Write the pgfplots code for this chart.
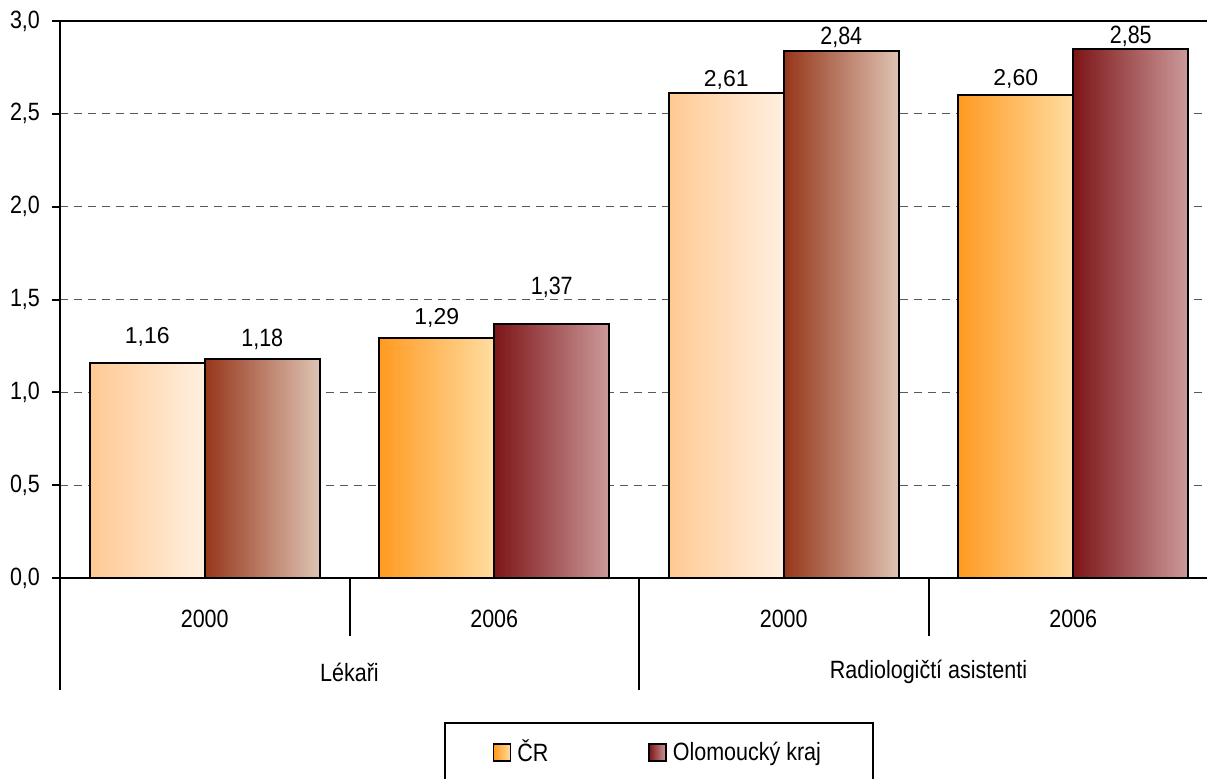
\documentclass[border=0pt]{standalone}
\usepackage{fontspec}
\setmainfont{Liberation Sans}
\newfontfamily\narrow[FakeStretch=0.86]{Liberation Sans}
\usepackage{pgfplots}
\pgfplotsset{compat=1.18}

\definecolor{crAl}{HTML}{FFC993}
\definecolor{crAr}{HTML}{FFF0E0}
\definecolor{crBl}{HTML}{FF9A22}
\definecolor{crBr}{HTML}{FFDDA2}
\definecolor{olAl}{HTML}{96361A}
\definecolor{olAr}{HTML}{DEC3B3}
\definecolor{olBl}{HTML}{7D1518}
\definecolor{olBr}{HTML}{CC9A9A}

\newcommand{\lab}{\narrow\fontsize{12.5}{15}\selectfont}
\newcommand{\labr}{\fontsize{11.5}{14}\selectfont}

\pgfplotsset{
  bar/.style={ybar, bar width=0.397, draw=black, line width=1pt, forget plot,
    nodes near coords={\pgfmathprintnumber[use comma,fixed,fixed zerofill,precision=2]{\pgfplotspointmeta}},
    nodes near coords style={anchor=center, text=black}},
  crbar/.style={bar, bar shift=-0.1985, nodes near coords style={font=\labr, xshift=-28.75pt}},
  olbar/.style={bar, bar shift=0.1985, nodes near coords style={font=\lab, xshift=28.75pt}},
}

\begin{document}
\begin{tikzpicture}
\begin{axis}[
  scale only axis, width=579pt, height=278.5pt,
  xmin=-0.5, xmax=3.5, ymin=0, ymax=3,
  xtick={0,1,2,3}, xticklabels={2000,2006,2000,2006},
  major x tick style={draw=none},
  ytick={0,0.5,1,1.5,2,2.5,3}, ytick pos=left,
  tick align=outside, major tick length=4pt,
  y tick style={black, line width=1pt},
  ymajorgrids, grid style={dash pattern=on 4pt off 3pt, black!65, line width=0.5pt},
  axis line style={line width=1pt},
  y tick label style={xshift=-2.5pt, /pgf/number format/.cd, use comma, fixed, fixed zerofill, precision=1},
  /pgf/number format/assume math mode=true,
  ticklabel style={font=\lab},
  xticklabel style={anchor=center, yshift=-16.5pt},
  clip=false,
  legend columns=2,
  legend image code/.code={\draw[#1, line width=0.7pt] (0pt,-4.25pt) rectangle (8.5pt,4.25pt);},
  legend style={at={(0.3316,-0.2585)}, anchor=north west, draw=black, line width=1pt,
    inner xsep=24pt, inner ysep=6.5pt, font=\lab, nodes={inner sep=2pt},
    /tikz/every odd column/.append style={column sep=1pt},
    /tikz/every even column/.append style={column sep=48pt}},
]
% CR 2000
\addplot[crbar, left color=crAl, right color=crAr,
  nodes near coords style={yshift=13pt}] coordinates {(0,1.16)};
\addplot[crbar, left color=crAl, right color=crAr,
  nodes near coords style={yshift=6.5pt}] coordinates {(2,2.61)};
% CR 2006
\addplot[crbar, left color=crBl, right color=crBr,
  nodes near coords style={yshift=10.5pt}] coordinates {(1,1.29)};
\addplot[crbar, left color=crBl, right color=crBr,
  nodes near coords style={yshift=8pt}] coordinates {(3,2.60)};
% Olomoucky 2000
\addplot[olbar, left color=olAl, right color=olAr,
  nodes near coords style={yshift=10pt}] coordinates {(0,1.18)};
\addplot[olbar, left color=olAl, right color=olAr,
  nodes near coords style={yshift=6.5pt}] coordinates {(2,2.84)};
% Olomoucky 2006
\addplot[olbar, left color=olBl, right color=olBr,
  nodes near coords style={yshift=18pt}] coordinates {(1,1.37)};
\addplot[olbar, left color=olBl, right color=olBr,
  nodes near coords style={yshift=6pt}] coordinates {(3,2.85)};

\addlegendimage{left color=crBl, right color=crBr, draw=black}
\addlegendentry{ČR}
\addlegendimage{left color=olBl, right color=olBr, draw=black}
\addlegendentry{Olomoucký kraj}

\draw[line width=1pt] (axis cs:0.5,0) -- ++(0pt,-29pt);
\draw[line width=1pt] (axis cs:2.5,0) -- ++(0pt,-29pt);
\draw[line width=1pt] (axis cs:-0.5,0) -- ++(0pt,-56pt);
\draw[line width=1pt] (axis cs:1.5,0) -- ++(0pt,-56pt);
\draw[line width=1pt] (axis cs:3.5,0) -- ++(0pt,-56pt);
\node[font=\lab] at (axis cs:0.5,0) [yshift=-47pt] {Lékaři};
\node[font=\lab] at (axis cs:2.5,0) [yshift=-47pt] {Radiologičtí asistenti};
\coordinate (O) at (axis cs:-0.5,0);
\end{axis}
\pgfresetboundingbox
\path[use as bounding box] ([shift={(-30pt,-100pt)}]O) rectangle ([shift={(573.5pt,289pt)}]O);
\end{tikzpicture}
\end{document}
